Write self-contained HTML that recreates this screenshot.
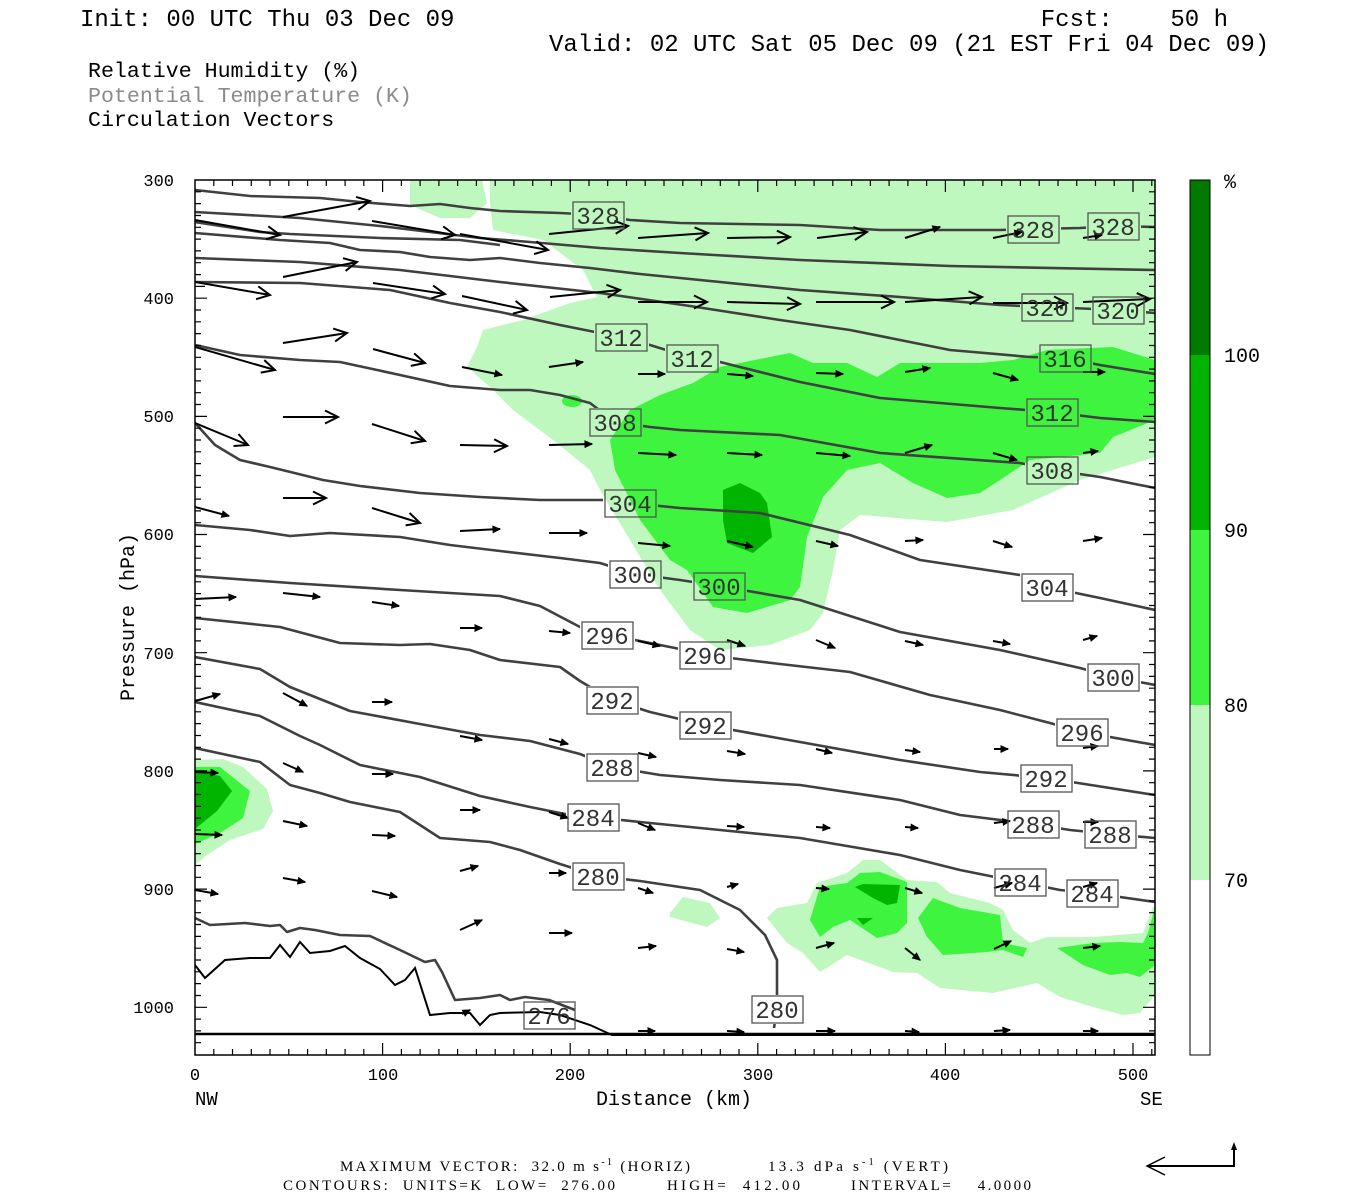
<!DOCTYPE html>
<html><head><meta charset="utf-8"><style>
html,body{margin:0;padding:0;background:#fff;}
svg{display:block;}
.mono{font-family:"Liberation Mono","DejaVu Sans Mono",monospace;}
.ser{font-family:"Liberation Serif",serif;}
</style></head><body>
<svg width="1350" height="1200" viewBox="0 0 1350 1200" xmlns="http://www.w3.org/2000/svg">
<defs>
<marker id="hb" markerUnits="userSpaceOnUse" markerWidth="30" markerHeight="30" refX="0" refY="0" viewBox="-15 -15 30 30" orient="auto" overflow="visible">
<path d="M-13,-6.5 L0,0 L-13,6.5" fill="none" stroke="#000" stroke-width="2"/></marker>
<marker id="hs" markerUnits="userSpaceOnUse" markerWidth="20" markerHeight="20" refX="0" refY="0" viewBox="-10 -10 20 20" orient="auto" overflow="visible">
<path d="M-7,-3.2 L0,0 L-7,3.2 Z" fill="#000" stroke="#000" stroke-width="1"/></marker>
<mask id="lm" maskUnits="userSpaceOnUse" x="0" y="0" width="1350" height="1200">
<rect x="0" y="0" width="1350" height="1200" fill="#fff"/>
<g fill="#000">
<rect x="571" y="201" width="55" height="29"/><rect x="1006" y="215" width="55" height="29"/><rect x="1086" y="212" width="55" height="29"/>
<rect x="1020" y="293" width="55" height="29"/><rect x="1091" y="296" width="55" height="29"/>
<rect x="1038" y="344" width="55" height="29"/>
<rect x="594" y="323" width="55" height="29"/><rect x="665" y="344" width="55" height="29"/><rect x="1025" y="398" width="55" height="29"/>
<rect x="588" y="408" width="55" height="29"/><rect x="1025" y="456" width="55" height="29"/>
<rect x="603" y="489" width="55" height="29"/><rect x="1020" y="573" width="55" height="29"/>
<rect x="608" y="560" width="55" height="29"/><rect x="692" y="572" width="55" height="29"/><rect x="1086" y="663" width="55" height="29"/>
<rect x="580" y="621" width="55" height="29"/><rect x="678" y="641" width="55" height="29"/><rect x="1055" y="718" width="55" height="29"/>
<rect x="585" y="686" width="55" height="29"/><rect x="678" y="711" width="55" height="29"/><rect x="1019" y="764" width="55" height="29"/>
<rect x="585" y="753" width="55" height="29"/><rect x="1006" y="810" width="55" height="29"/><rect x="1083" y="820" width="55" height="29"/>
<rect x="566" y="803" width="55" height="29"/><rect x="993" y="868" width="55" height="29"/><rect x="1065" y="879" width="55" height="29"/>
<rect x="571" y="862" width="55" height="29"/><rect x="750" y="995" width="55" height="29"/>
</g></mask>
<clipPath id="pc"><rect x="195" y="180" width="960" height="875"/></clipPath>
</defs>

<g class="mono" font-size="24" fill="#000">
<text x="80" y="26">Init: 00 UTC Thu 03 Dec 09</text>
<text x="1228" y="26" text-anchor="end">Fcst:&#160;&#160;&#160;&#160;50 h</text>
<text x="549" y="51">Valid: 02 UTC Sat 05 Dec 09 (21 EST Fri 04 Dec 09)</text>
</g>
<g class="mono" font-size="21.6">
<text x="88" y="77" fill="#000">Relative Humidity (%)</text>
<text x="88" y="102" fill="#8a8a8a">Potential Temperature (K)</text>
<text x="88" y="126" fill="#000">Circulation Vectors</text>
</g>

<g clip-path="url(#pc)">
<g fill="#bef8be">
<polygon points="410,180 482,180 487,203 470,218 440,218 410,205"/>
<polygon points="490,180 1155,180 1155,457 1080,480 1013,510 947,522 860,515 840,530 833,570 823,613 810,630 770,645 720,650 690,630 660,590 630,540 600,490 590,470 557,443 513,410 490,387 467,367 477,347 483,330 523,320 570,303 597,297 583,270 543,240 493,230 490,203"/>
<polygon points="195,760 223,759 243,767 267,789 273,811 263,829 230,840 207,855 195,865"/>
<polygon points="670,913 683,897 710,903 720,918 707,927 670,917"/>
<polygon points="767,918 777,908 807,903 817,883 847,873 863,860 880,860 907,880 937,882 950,893 990,903 1003,910 1013,930 1030,943 1047,937 1093,937 1143,933 1153,907 1155,907 1155,995 1140,1013 1123,1015 1093,1007 1060,997 1037,983 993,993 940,988 917,973 893,972 847,955 820,972 803,953 787,943"/>
</g>
<g fill="#3ef43e">
<polygon points="693,383 720,367 790,353 813,363 847,363 877,377 900,363 980,363 1013,360 1047,350 1113,347 1155,360 1155,420 1113,437 1100,453 1030,460 1000,480 980,493 947,498 913,483 880,463 847,470 823,497 807,537 800,587 790,600 747,613 713,607 687,570 670,560 640,520 615,470 610,440 630,410 660,395"/>
<ellipse cx="572" cy="401" rx="10" ry="6"/>
<polygon points="195,767 220,767 250,791 243,818 220,833 195,844"/>
<polygon points="810,920 820,887 847,883 860,873 880,872 907,882 907,923 897,933 877,938 850,920 833,927 820,937"/>
<polygon points="918,918 933,898 960,908 1000,915 1003,943 1027,948 1023,957 1003,950 987,952 943,955 927,937"/>
<polygon points="1057,948 1093,943 1120,942 1143,943 1148,933 1155,907 1155,965 1140,977 1127,973 1110,975 1083,965"/>
</g>
<g fill="#00b400">
<polygon points="723,490 740,483 760,493 767,503 772,537 753,553 727,543 723,520"/>
<polygon points="195,771 220,776 232,791 217,811 195,829"/>
<polygon points="855,887 863,884 900,885 897,903 887,905 873,898"/>
<polygon points="857,918 873,918 863,925"/>
</g>

<g fill="none" stroke="#404040" stroke-width="2.6" stroke-linejoin="round" mask="url(#lm)">
<polyline points="195,190 250,196 320,198 360,202 410,206 440,204 470,208 500,211 560,213 598,215 630,220 680,223 800,225 880,230 1000,230 1033,229 1080,228 1113,226 1155,227"/>
<polyline points="195,212 300,218 380,226 430,232 480,238 530,242 600,248 680,253 800,260 950,266 1155,270"/>
<polyline points="195,222 260,232 290,234 380,238 460,240 500,245"/>
<polyline points="195,233 280,240 330,243 360,250 400,252 430,257 470,260 500,258 540,263 590,268 640,274 680,278 800,290 900,297 1000,305 1047,307 1118,310 1155,313"/>
<polyline points="195,258 300,262 400,270 500,282 600,293 690,306 780,320 850,330 950,350 1030,357 1065,358 1100,365 1155,374"/>
<polyline points="195,282 300,283 390,290 450,303 500,312 560,325 600,333 621,337 650,345 692,358 720,362 800,382 880,398 1000,408 1052,412 1100,418 1155,422"/>
<polyline points="195,345 240,355 300,360 340,362 400,375 450,386 500,390 530,390 560,395 590,403 615,422 650,427 680,430 780,435 880,453 1020,463 1052,470 1100,477 1155,488"/>
<polyline points="195,423 215,445 240,460 270,467 323,480 360,486 420,493 480,497 540,500 602,500 630,503 680,508 760,513 850,535 920,560 1020,575 1047,587 1100,598 1155,610"/>
<polyline points="195,525 250,530 290,536 330,533 400,537 450,545 500,551 560,558 600,563 635,574 680,580 719,586 800,600 900,632 1000,650 1080,668 1113,677 1155,685"/>
<polyline points="195,576 290,583 400,590 500,596 540,606 580,627 607,635 635,640 680,649 705,655 780,664 850,672 930,695 1000,710 1050,723 1082,732 1155,745"/>
<polyline points="195,618 280,627 340,643 400,645 430,644 470,650 500,660 560,667 580,681 612,700 650,712 705,725 800,742 900,760 980,772 1046,778 1155,795"/>
<polyline points="195,657 260,669 290,687 320,699 350,711 420,724 480,735 530,741 580,754 612,767 660,775 720,780 800,785 900,800 960,815 1033,824 1070,830 1110,834 1155,838"/>
<polyline points="195,702 260,716 300,736 320,745 360,765 420,777 480,796 530,807 570,815 593,817 640,822 720,830 800,838 900,855 960,870 1020,882 1060,890 1092,893 1155,902"/>
<polyline points="195,748 260,762 290,785 320,793 350,802 400,812 440,838 490,842 520,850 560,864 598,876 640,881 700,890 740,910 765,935 777,960 777,1007 774,1028"/>
<polyline points="195,918 210,925 245,923 270,926 280,925 287,932 300,928 315,930 340,935 370,936 400,950 425,962 435,960 442,972 455,1000 480,998 500,995 510,1000 525,997 549,1000 575,1010"/>
</g>
<polyline fill="none" stroke="#000" stroke-width="2" points="195,965 205,978 225,960 250,958 270,958 280,945 290,957 300,942 310,953 330,951 345,946 360,958 380,969 395,985 405,980 415,968 430,1015 450,1013 470,1013 480,1025 490,1015 500,1013 540,1012 560,1015 590,1025 612,1035 655,1035 1155,1035"/>
<line x1="195" y1="1034" x2="1155" y2="1034" stroke="#000" stroke-width="2.5"/>

<g stroke="#000" stroke-width="2" marker-end="url(#hb)" fill="none">
<line x1="283" y1="217" x2="370" y2="201"/><line x1="195" y1="220" x2="280" y2="235"/><line x1="372" y1="221" x2="455" y2="235"/><line x1="460" y1="234" x2="548" y2="250"/><line x1="549" y1="234" x2="628" y2="226"/><line x1="638" y1="238" x2="708" y2="233"/><line x1="727" y1="238" x2="790" y2="237"/><line x1="817" y1="238" x2="867" y2="232"/>
<line x1="195" y1="282" x2="270" y2="295"/><line x1="283" y1="277" x2="357" y2="262"/><line x1="373" y1="283" x2="445" y2="294"/><line x1="462" y1="296" x2="527" y2="310"/><line x1="550" y1="297" x2="620" y2="290"/><line x1="638" y1="302" x2="707" y2="302"/><line x1="727" y1="302" x2="800" y2="304"/><line x1="816" y1="302" x2="894" y2="302"/><line x1="905" y1="302" x2="982" y2="297"/><line x1="993" y1="303" x2="1067" y2="303"/><line x1="1083" y1="302" x2="1150" y2="299"/>
<line x1="283" y1="343" x2="347" y2="333"/><line x1="195" y1="347" x2="275" y2="370"/><line x1="373" y1="349" x2="425" y2="363"/>
<line x1="283" y1="417" x2="338" y2="417"/><line x1="195" y1="423" x2="248" y2="445"/><line x1="372" y1="424" x2="425" y2="441"/><line x1="460" y1="445" x2="507" y2="446"/>
<line x1="283" y1="498" x2="326" y2="498"/><line x1="372" y1="508" x2="420" y2="523"/>
</g>
<g stroke="#000" stroke-width="2" marker-end="url(#hs)" fill="none">
<line x1="905" y1="238" x2="940" y2="227"/><line x1="993" y1="238" x2="1022" y2="232"/><line x1="1083" y1="238" x2="1102" y2="235"/>
<line x1="462" y1="367" x2="502" y2="375"/><line x1="549" y1="367" x2="583" y2="362"/><line x1="638" y1="374" x2="665" y2="374"/><line x1="727" y1="374" x2="753" y2="376"/><line x1="816" y1="373" x2="843" y2="374"/><line x1="905" y1="372" x2="930" y2="368"/><line x1="993" y1="373" x2="1018" y2="380"/><line x1="1083" y1="372" x2="1105" y2="372"/>
<line x1="549" y1="445" x2="592" y2="444"/><line x1="638" y1="453" x2="676" y2="455"/><line x1="727" y1="453" x2="762" y2="455"/><line x1="816" y1="453" x2="850" y2="456"/><line x1="905" y1="453" x2="932" y2="445"/><line x1="993" y1="453" x2="1017" y2="460"/><line x1="1083" y1="453" x2="1098" y2="451"/>
<line x1="195" y1="507" x2="229" y2="516"/><line x1="460" y1="531" x2="500" y2="529"/><line x1="549" y1="533" x2="587" y2="533"/><line x1="638" y1="543" x2="670" y2="546"/><line x1="727" y1="541" x2="753" y2="547"/><line x1="816" y1="541" x2="838" y2="546"/><line x1="905" y1="541" x2="923" y2="540"/><line x1="993" y1="541" x2="1012" y2="547"/><line x1="1083" y1="541" x2="1102" y2="538"/>
<line x1="195" y1="599" x2="236" y2="597"/><line x1="283" y1="593" x2="320" y2="597"/><line x1="372" y1="602" x2="399" y2="606"/><line x1="460" y1="628" x2="482" y2="628"/><line x1="549" y1="631" x2="570" y2="633"/><line x1="638" y1="641" x2="660" y2="646"/><line x1="727" y1="640" x2="745" y2="646"/><line x1="816" y1="640" x2="835" y2="648"/><line x1="905" y1="641" x2="923" y2="645"/><line x1="993" y1="641" x2="1010" y2="644"/><line x1="1083" y1="640" x2="1097" y2="636"/>
<line x1="195" y1="701" x2="220" y2="694"/><line x1="283" y1="693" x2="307" y2="706"/><line x1="372" y1="702" x2="392" y2="702"/><line x1="460" y1="736" x2="482" y2="740"/><line x1="549" y1="739" x2="568" y2="744"/><line x1="638" y1="753" x2="656" y2="757"/><line x1="727" y1="751" x2="745" y2="754"/><line x1="816" y1="749" x2="832" y2="753"/><line x1="905" y1="750" x2="920" y2="752"/><line x1="994" y1="749" x2="1008" y2="749"/><line x1="1083" y1="748" x2="1098" y2="746"/>
<line x1="195" y1="772" x2="218" y2="773"/><line x1="283" y1="763" x2="303" y2="772"/><line x1="372" y1="774" x2="393" y2="774"/><line x1="460" y1="810" x2="480" y2="810"/><line x1="549" y1="812" x2="568" y2="818"/><line x1="638" y1="823" x2="655" y2="830"/><line x1="727" y1="826" x2="744" y2="827"/><line x1="816" y1="827" x2="830" y2="828"/><line x1="905" y1="827" x2="918" y2="828"/><line x1="994" y1="823" x2="1010" y2="821"/><line x1="1083" y1="822" x2="1098" y2="822"/>
<line x1="195" y1="834" x2="222" y2="835"/><line x1="283" y1="821" x2="307" y2="826"/><line x1="372" y1="835" x2="395" y2="836"/><line x1="460" y1="871" x2="478" y2="866"/><line x1="549" y1="873" x2="566" y2="873"/><line x1="638" y1="888" x2="653" y2="893"/><line x1="727" y1="887" x2="738" y2="884"/><line x1="816" y1="888" x2="829" y2="889"/><line x1="905" y1="888" x2="922" y2="893"/><line x1="994" y1="888" x2="1012" y2="883"/><line x1="1083" y1="887" x2="1097" y2="883"/>
<line x1="195" y1="890" x2="218" y2="894"/><line x1="283" y1="878" x2="305" y2="882"/><line x1="372" y1="891" x2="397" y2="897"/><line x1="460" y1="930" x2="482" y2="920"/><line x1="549" y1="933" x2="572" y2="933"/><line x1="638" y1="948" x2="656" y2="946"/><line x1="727" y1="949" x2="744" y2="952"/><line x1="816" y1="948" x2="834" y2="943"/><line x1="905" y1="948" x2="920" y2="960"/><line x1="994" y1="949" x2="1011" y2="941"/><line x1="1083" y1="948" x2="1100" y2="946"/>
<line x1="462" y1="1014" x2="470" y2="1010"/><line x1="638" y1="1031" x2="655" y2="1031"/><line x1="727" y1="1031" x2="744" y2="1032"/><line x1="816" y1="1031" x2="835" y2="1031"/><line x1="905" y1="1031" x2="919" y2="1032"/><line x1="994" y1="1031" x2="1010" y2="1030"/><line x1="1083" y1="1031" x2="1098" y2="1031"/>
</g>

<g fill="none" stroke="#555" stroke-width="1.3">
<rect x="573" y="202" width="51" height="27"/><rect x="1008" y="216" width="51" height="27"/><rect x="1088" y="213" width="51" height="27"/>
<rect x="1022" y="294" width="51" height="27"/><rect x="1093" y="297" width="51" height="27"/>
<rect x="1040" y="345" width="51" height="27"/>
<rect x="596" y="324" width="51" height="27"/><rect x="667" y="345" width="51" height="27"/><rect x="1027" y="399" width="51" height="27"/>
<rect x="590" y="409" width="51" height="27"/><rect x="1027" y="457" width="51" height="27"/>
<rect x="605" y="490" width="51" height="27"/><rect x="1022" y="574" width="51" height="27"/>
<rect x="610" y="561" width="51" height="27"/><rect x="694" y="573" width="51" height="27"/><rect x="1088" y="664" width="51" height="27"/>
<rect x="582" y="622" width="51" height="27"/><rect x="680" y="642" width="51" height="27"/><rect x="1057" y="719" width="51" height="27"/>
<rect x="587" y="687" width="51" height="27"/><rect x="680" y="712" width="51" height="27"/><rect x="1021" y="765" width="51" height="27"/>
<rect x="587" y="754" width="51" height="27"/><rect x="1008" y="811" width="51" height="27"/><rect x="1085" y="821" width="51" height="27"/>
<rect x="568" y="804" width="51" height="27"/><rect x="995" y="869" width="51" height="27"/><rect x="1067" y="880" width="51" height="27"/>
<rect x="573" y="863" width="51" height="27"/><rect x="752" y="996" width="51" height="27"/><rect x="524" y="1002" width="51" height="27"/>
</g>
<g class="mono" font-size="24" fill="#333" text-anchor="middle">
<text x="598" y="224">328</text><text x="1033" y="238">328</text><text x="1113" y="235">328</text>
<text x="1047" y="316">320</text><text x="1118" y="319">320</text>
<text x="1065" y="367">316</text>
<text x="621" y="346">312</text><text x="692" y="367">312</text><text x="1052" y="421">312</text>
<text x="615" y="431">308</text><text x="1052" y="479">308</text>
<text x="630" y="512">304</text><text x="1047" y="596">304</text>
<text x="635" y="583">300</text><text x="719" y="595">300</text><text x="1113" y="686">300</text>
<text x="607" y="644">296</text><text x="705" y="664">296</text><text x="1082" y="741">296</text>
<text x="612" y="709">292</text><text x="705" y="734">292</text><text x="1046" y="787">292</text>
<text x="612" y="776">288</text><text x="1033" y="833">288</text><text x="1110" y="843">288</text>
<text x="593" y="826">284</text><text x="1020" y="891">284</text><text x="1092" y="902">284</text>
<text x="598" y="885">280</text><text x="777" y="1018">280</text><text x="549" y="1024">276</text>
</g>
</g>

<rect x="195" y="180" width="960" height="875" fill="none" stroke="#000" stroke-width="1.5"/>
<path stroke="#000" stroke-width="1.2" fill="none" d="
M195,191.8h6M195,203.6h6M195,215.5h6M195,227.3h6M195,239.1h6M195,250.9h6M195,262.7h6M195,274.6h6M195,286.4h10
M195,298.2h12M195,310h6M195,321.8h6M195,333.6h6M195,345.5h6M195,357.3h6M195,369.1h6M195,380.9h6M195,392.7h6M195,404.5h6
M195,416.4h12M195,428.2h6M195,440h6M195,451.8h6M195,463.6h6M195,475.5h6M195,487.3h6M195,499.1h6M195,510.9h6M195,522.7h6
M195,534.5h12M195,546.4h6M195,558.2h6M195,570h6M195,581.8h6M195,593.6h6M195,605.5h6M195,617.3h6M195,629.1h6M195,640.9h6
M195,652.7h12M195,664.5h6M195,676.4h6M195,688.2h6M195,700h6M195,711.8h6M195,723.6h6M195,735.5h6M195,747.3h6M195,759.1h6
M195,770.9h12M195,782.7h6M195,794.5h6M195,806.4h6M195,818.2h6M195,830h6M195,841.8h6M195,853.6h6M195,865.5h6M195,877.3h6
M195,889.1h12M195,900.9h6M195,912.7h6M195,924.5h6M195,936.4h6M195,948.2h6M195,960h6M195,971.8h6M195,983.6h6M195,995.5h6
M195,1007.3h12M195,1019.1h6M195,1030.9h6M195,1042.7h6
M1155,191.8h-6M1155,203.6h-6M1155,215.5h-6M1155,227.3h-6M1155,239.1h-6M1155,250.9h-6M1155,262.7h-6M1155,274.6h-6M1155,286.4h-6
M1155,298.2h-12M1155,310h-6M1155,321.8h-6M1155,333.6h-6M1155,345.5h-6M1155,357.3h-6M1155,369.1h-6M1155,380.9h-6M1155,392.7h-6M1155,404.5h-6
M1155,416.4h-12M1155,428.2h-6M1155,440h-6M1155,451.8h-6M1155,463.6h-6M1155,475.5h-6M1155,487.3h-6M1155,499.1h-6M1155,510.9h-6M1155,522.7h-6
M1155,534.5h-12M1155,546.4h-6M1155,558.2h-6M1155,570h-6M1155,581.8h-6M1155,593.6h-6M1155,605.5h-6M1155,617.3h-6M1155,629.1h-6M1155,640.9h-6
M1155,652.7h-12M1155,664.5h-6M1155,676.4h-6M1155,688.2h-6M1155,700h-6M1155,711.8h-6M1155,723.6h-6M1155,735.5h-6M1155,747.3h-6M1155,759.1h-6
M1155,770.9h-12M1155,782.7h-6M1155,794.5h-6M1155,806.4h-6M1155,818.2h-6M1155,830h-6M1155,841.8h-6M1155,853.6h-6M1155,865.5h-6M1155,877.3h-6
M1155,889.1h-12M1155,900.9h-6M1155,912.7h-6M1155,924.5h-6M1155,936.4h-6M1155,948.2h-6M1155,960h-6M1155,971.8h-6M1155,983.6h-6M1155,995.5h-6
M1155,1007.3h-12M1155,1019.1h-6M1155,1030.9h-6M1155,1042.7h-6
M213.8,180v6M232.5,180v6M251.3,180v6M270,180v6M288.8,180v6M307.6,180v6M326.3,180v6M345.1,180v6M363.8,180v6M382.6,180v12M401.4,180v6M420.1,180v6M438.9,180v6M457.6,180v6M476.4,180v6M495.2,180v6M513.9,180v6M532.7,180v6M551.4,180v6M570.2,180v12M589,180v6M607.7,180v6M626.5,180v6M645.2,180v6M664,180v6M682.8,180v6M701.5,180v6M720.3,180v6M739,180v6M757.8,180v12M776.6,180v6M795.3,180v6M814.1,180v6M832.8,180v6M851.6,180v6M870.4,180v6M889.1,180v6M907.9,180v6M926.6,180v6M945.4,180v12M964.2,180v6M982.9,180v6M1001.7,180v6M1020.4,180v6M1039.2,180v6M1058,180v6M1076.7,180v6M1095.5,180v6M1114.2,180v6M1133,180v12M1151.8,180v6
M213.8,1055v-6M232.5,1055v-6M251.3,1055v-6M270,1055v-6M288.8,1055v-6M307.6,1055v-6M326.3,1055v-6M345.1,1055v-6M363.8,1055v-6M382.6,1055v-12M401.4,1055v-6M420.1,1055v-6M438.9,1055v-6M457.6,1055v-6M476.4,1055v-6M495.2,1055v-6M513.9,1055v-6M532.7,1055v-6M551.4,1055v-6M570.2,1055v-12M589,1055v-6M607.7,1055v-6M626.5,1055v-6M645.2,1055v-6M664,1055v-6M682.8,1055v-6M701.5,1055v-6M720.3,1055v-6M739,1055v-6M757.8,1055v-12M776.6,1055v-6M795.3,1055v-6M814.1,1055v-6M832.8,1055v-6M851.6,1055v-6M870.4,1055v-6M889.1,1055v-6M907.9,1055v-6M926.6,1055v-6M945.4,1055v-12M964.2,1055v-6M982.9,1055v-6M1001.7,1055v-6M1020.4,1055v-6M1039.2,1055v-6M1058,1055v-6M1076.7,1055v-6M1095.5,1055v-6M1114.2,1055v-6M1133,1055v-12M1151.8,1055v-6"/>

<g class="mono" font-size="17" fill="#000">
<g text-anchor="end">
<text x="174" y="186">300</text><text x="174" y="304">400</text><text x="174" y="422">500</text><text x="174" y="540">600</text><text x="174" y="659">700</text><text x="174" y="777">800</text><text x="174" y="895">900</text><text x="174" y="1013">1000</text>
</g>
<g text-anchor="middle">
<text x="195" y="1080">0</text><text x="383" y="1080">100</text><text x="570" y="1080">200</text><text x="758" y="1080">300</text><text x="945" y="1080">400</text><text x="1133" y="1080">500</text>
</g>
<text x="195" y="1105" font-size="19">NW</text>
<text x="1140" y="1105" font-size="19">SE</text>
<text x="674" y="1105" font-size="20" text-anchor="middle">Distance (km)</text>
<text transform="translate(134,617) rotate(-90)" font-size="20" text-anchor="middle">Pressure (hPa)</text>
</g>

<rect x="1190" y="180" width="20" height="175" fill="#007a00"/>
<rect x="1190" y="355" width="20" height="175" fill="#00b400"/>
<rect x="1190" y="530" width="20" height="175" fill="#3ef43e"/>
<rect x="1190" y="705" width="20" height="175" fill="#bef8be"/>
<rect x="1190" y="880" width="20" height="175" fill="#fff"/>
<rect x="1190" y="180" width="20" height="875" fill="none" stroke="#000" stroke-width="1"/>
<g class="mono" font-size="20" fill="#000">
<text x="1224" y="188">%</text>
<text x="1224" y="362">100</text><text x="1224" y="537">90</text><text x="1224" y="712">80</text><text x="1224" y="887">70</text>
</g>

<g class="ser" font-size="15" fill="#000">
<text x="340" y="1171" textLength="350" lengthAdjust="spacing">MAXIMUM VECTOR:&#160;&#160;32.0 m s<tspan dy="-6" font-size="10">-1</tspan><tspan dy="6">&#160;(HORIZ)</tspan></text>
<text x="768" y="1171" textLength="180" lengthAdjust="spacing">13.3 dPa s<tspan dy="-6" font-size="10">-1</tspan><tspan dy="6">&#160;(VERT)</tspan></text>
<text x="283" y="1190" textLength="332" lengthAdjust="spacing">CONTOURS:&#160;&#160;UNITS=K&#160;&#160;LOW=&#160;&#160;276.00</text>
<text x="667" y="1190" textLength="133" lengthAdjust="spacing">HIGH=&#160;&#160;412.00</text>
<text x="851" y="1190" textLength="180" lengthAdjust="spacing">INTERVAL=&#160;&#160;&#160;&#160;4.0000</text>
</g>
<polyline points="1147,1166 1234,1166 1234,1145" fill="none" stroke="#000" stroke-width="2"/>
<path d="M1165,1157 L1147,1166 L1165,1175" fill="none" stroke="#000" stroke-width="1.5"/>
<path d="M1231,1150 L1234,1142 L1237,1150 Z" fill="#000"/>
</svg>
</body></html>
